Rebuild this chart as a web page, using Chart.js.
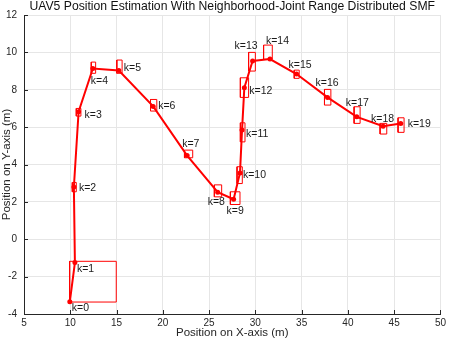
<!DOCTYPE html>
<html>
<head>
<meta charset="utf-8">
<script src="https://cdn.jsdelivr.net/npm/chart.js@4"></script>
<style>
  html, body { margin: 0; padding: 0; background: #fff; }
  #wrap { width: 449px; height: 341px; }
</style>
</head>
<body>
<div id="wrap"><canvas id="uavChart"></canvas></div>
<script>
// estimated positions per step k
const steps = [0, 1, 2, 3, 4, 5, 6, 7, 8, 9, 10, 11, 12, 13, 14, 15, 16, 17, 18, 19];
const xPos = [9.95, 10.5, 10.39, 10.9, 12.44, 15.25, 18.96, 22.63, 25.93, 27.65, 28.34, 28.56, 28.81, 29.7, 31.58, 34.45, 37.8, 40.96, 43.8, 45.71];
const yPos = [-3.35, -1.25, 2.8, 6.82, 9.14, 9.03, 7.11, 4.48, 2.52, 2.14, 3.55, 5.84, 8.11, 9.54, 9.64, 8.84, 7.59, 6.55, 6.05, 6.2];

// range boxes (null = no box drawn)
const boxXMin = [null, 9.93, 10.22, 10.65, 12.27, 15.03, 18.67, 22.34, 25.57, 27.3, 28.02, 28.38, 28.38, 29.27, 30.89, 34.2, 37.47, 40.67, 43.48, 45.42];
const boxXMax = [null, 14.97, 10.65, 11.15, 12.74, 15.6, 19.35, 23.23, 26.36, 28.34, 28.59, 28.88, 29.27, 30.0, 31.83, 34.74, 38.16, 41.32, 44.2, 46.07];
const boxYMin = [null, -3.36, 2.54, 6.59, 8.88, 8.88, 6.86, 4.36, 2.27, 1.86, 2.98, 5.21, 7.59, 9.0, 9.63, 8.61, 7.18, 6.2, 5.63, 5.72];
const boxYMax = [null, -1.18, 3.04, 7.0, 9.48, 9.59, 7.48, 4.77, 2.91, 2.54, 3.88, 6.23, 8.64, 10.0, 10.39, 9.05, 8.02, 7.09, 6.2, 6.5];

const xTicks = [5, 10, 15, 20, 25, 30, 35, 40, 45, 50];
const yTicks = [-4, -2, 0, 2, 4, 6, 8, 10, 12];

const chartTitle = 'UAV5 Position Estimation With Neighborhood-Joint Range Distributed SMF';

// label placement relative to the point, in pixels
const labelOffsets = [[2, 6], [2, 6], [5, 1], [6, 3], [-2, 13], [5, -2], [5, 0], [-5, -11], [-10, 10], [-7, 12],
  [3, 2], [4, 4], [5, 3], [-18, -15], [-4, -18], [-8, -9], [-12, -14], [-11, -14], [-12, -7], [7, 1]];

const RED = '#ff0000';
const AXIS = '#262626';
const FONT = "'Liberation Sans', Arial, Helvetica, sans-serif";

const pathData = xPos.map((x, i) => ({ x: x, y: yPos[i] }));

const boxSets = [];
steps.forEach((k, i) => {
  if (boxXMin[i] === null) return;
  boxSets.push({
    label: 'box' + k,
    data: [
      { x: boxXMin[i], y: boxYMin[i] },
      { x: boxXMax[i], y: boxYMin[i] },
      { x: boxXMax[i], y: boxYMax[i] },
      { x: boxXMin[i], y: boxYMax[i] },
      { x: boxXMin[i], y: boxYMin[i] }
    ],
    showLine: true,
    borderColor: RED,
    borderWidth: 1,
    pointRadius: 0,
    fill: false,
    tension: 0
  });
});

const stepLabels = {
  id: 'stepLabels',
  afterDatasetsDraw(chart) {
    const { ctx, scales } = chart;
    ctx.save();
    ctx.font = '10.5px ' + FONT;
    ctx.fillStyle = '#1a1a1a';
    ctx.textAlign = 'left';
    ctx.textBaseline = 'middle';
    steps.forEach((k, i) => {
      const px = scales.x.getPixelForValue(xPos[i]);
      const py = scales.y.getPixelForValue(yPos[i]);
      ctx.fillText('k=' + k, px + labelOffsets[i][0], py + labelOffsets[i][1]);
    });
    ctx.restore();
  }
};

// title centred over the axes, like matlab does it
const axesTitle = {
  id: 'axesTitle',
  afterDraw(chart) {
    const { ctx, chartArea } = chart;
    ctx.save();
    ctx.font = '12.2px ' + FONT;
    ctx.fillStyle = '#111';
    ctx.textAlign = 'center';
    ctx.textBaseline = 'middle';
    ctx.fillText(chartTitle, (chartArea.left + chartArea.right) / 2, 7);
    ctx.restore();
  }
};

// matlab style ticks pointing into the plot
const innerTicks = {
  id: 'innerTicks',
  afterDraw(chart) {
    const { ctx, chartArea, scales } = chart;
    ctx.save();
    ctx.strokeStyle = AXIS;
    ctx.lineWidth = 1;
    ctx.beginPath();
    xTicks.forEach(v => {
      const px = Math.round(scales.x.getPixelForValue(v)) + 0.5;
      ctx.moveTo(px, chartArea.bottom);
      ctx.lineTo(px, chartArea.bottom - 4);
    });
    yTicks.forEach(v => {
      const py = Math.round(scales.y.getPixelForValue(v)) + 0.5;
      ctx.moveTo(chartArea.left, py);
      ctx.lineTo(chartArea.left + 4, py);
    });
    ctx.stroke();
    ctx.restore();
  }
};

new Chart(document.getElementById('uavChart'), {
  type: 'scatter',
  data: {
    datasets: [
      {
        label: 'UAV5',
        data: pathData,
        showLine: true,
        borderColor: RED,
        borderWidth: 2,
        backgroundColor: RED,
        pointRadius: 2.5,
        pointBorderWidth: 0,
        tension: 0
      },
      ...boxSets
    ]
  },
  plugins: [stepLabels, innerTicks, axesTitle],
  options: {
    responsive: true,
    maintainAspectRatio: false,
    animation: false,
    layout: { padding: { left: 0, right: 7, top: 15, bottom: 0 } },
    plugins: {
      legend: { display: false },
      tooltip: { enabled: false },
      title: { display: false }
    },
    scales: {
      x: {
        type: 'linear',
        min: 5,
        max: 50,
        afterBuildTicks: s => { s.ticks = xTicks.map(v => ({ value: v })); },
        afterFit: s => { s.height = 27; },
        grid: { color: '#e6e6e6', drawTicks: false },
        border: { display: true, color: AXIS, width: 1 },
        ticks: { color: AXIS, padding: 3, font: { family: FONT, size: 10 } },
        title: {
          display: true,
          text: 'Position on X-axis (m)',
          color: AXIS,
          font: { family: FONT, size: 11.5 },
          padding: { top: 0, bottom: 1 }
        }
      },
      y: {
        type: 'linear',
        min: -4,
        max: 12,
        afterBuildTicks: s => { s.ticks = yTicks.map(v => ({ value: v })); },
        afterFit: s => { s.width = 24; },
        grid: { color: '#e6e6e6', drawTicks: false },
        border: { display: true, color: AXIS, width: 1 },
        ticks: { color: AXIS, padding: 7, font: { family: FONT, size: 10 } },
        title: {
          display: true,
          text: 'Position on Y-axis (m)',
          color: AXIS,
          font: { family: FONT, size: 11.5 },
          padding: { top: 0, bottom: 0 }
        }
      }
    }
  }
});
</script>
</body>
</html>
